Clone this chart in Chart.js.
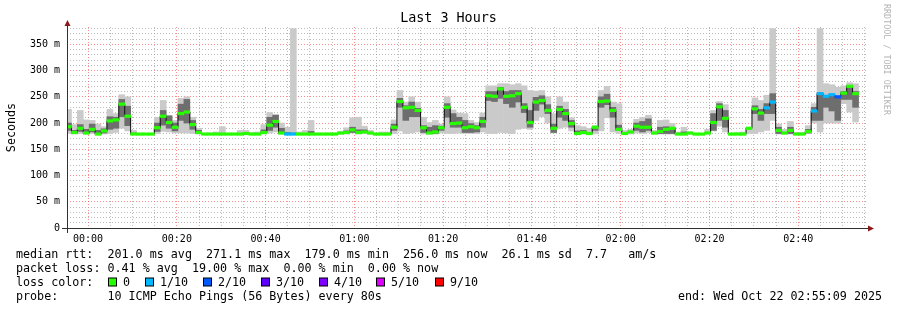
<!DOCTYPE html>
<html>
<head>
<meta charset="utf-8">
<script src="https://cdn.jsdelivr.net/npm/chart.js@4.4.0/dist/chart.umd.min.js"></script>
<style>
	html, body { margin: 0; padding: 0; background: #fff; }
	#wrap { width: 897px; height: 310px; position: relative; }
</style>
</head>
<body>
<div id="wrap"><canvas id="chart"></canvas></div>
<script>
// one step = 80 s, first (partial) step is k = -4, minutes relative to 00:00
const FIRST_CENTER = -4.413;
const STEP_MIN = 80 / 60;

// median rtt per step (ms), k = -4 .. 129
const median = [
	193, 182, 190, 181,
	188, 179, 185, 204, 206, 236, 213, 179, 179, 179,
	179, 191, 213, 201, 192, 218, 221, 197, 182, 179,
	179, 179, 179, 179, 179, 179, 180, 179, 179, 182,
	196, 203, 181, 179, 179, 179, 179, 179, 179, 179,
	179, 179, 181, 182, 187, 182, 183, 181, 179, 179,
	179, 192, 241, 229, 230, 224, 191, 181, 183, 191,
	230, 199, 200, 191, 193, 191, 203, 252, 251, 265,
	251, 252, 256, 230, 201, 240, 243, 224, 190, 226,
	218, 199, 180, 182, 180, 192, 241, 242, 224, 188,
	180, 183, 194, 192, 192, 181, 184, 188, 190, 179,
	179, 181, 179, 179, 181, 201, 231, 209, 179, 179,
	179, 190, 227, 219, 229, 240, 186, 181, 186, 179,
	179, 184, 223, 256, 251, 254, 250, 257, 270, 256
];
// highest ping per step
const pingMax = [
	226, 197, 224, 206,
	205, 198, 193, 226, 218, 254, 250, 186, 180, 180,
	180, 211, 243, 211, 205, 247, 250, 211, 190, 180,
	181, 183, 193, 180, 180, 186, 186, 182, 183, 197,
	220, 216, 200, 192, 380, 183, 186, 205, 180, 180,
	181, 181, 184, 191, 210, 211, 194, 186, 180, 183,
	183, 206, 262, 240, 250, 240, 211, 201, 205, 198,
	250, 225, 219, 218, 205, 201, 219, 271, 271, 275,
	275, 273, 275, 271, 262, 261, 262, 250, 218, 250,
	240, 210, 195, 193, 190, 195, 262, 270, 240, 237,
	186, 188, 207, 211, 215, 186, 205, 206, 199, 183,
	192, 183, 180, 180, 188, 224, 241, 235, 180, 182,
	183, 192, 248, 243, 253, 380, 198, 188, 203, 182,
	182, 195, 237, 380, 275, 273, 268, 271, 277, 275
];
// lowest ping per step
const pingMin = [
	180, 179, 180, 179,
	180, 178, 179, 180, 182, 190, 185, 178, 178, 178,
	178, 180, 184, 183, 181, 181, 181, 180, 179, 178,
	178, 178, 178, 178, 178, 178, 178, 178, 178, 179,
	181, 183, 179, 178, 178, 178, 178, 178, 178, 178,
	178, 178, 179, 179, 181, 179, 180, 179, 178, 178,
	178, 180, 185, 180, 181, 183, 179, 179, 179, 181,
	180, 180, 181, 180, 180, 180, 183, 180, 180, 182,
	181, 180, 188, 190, 188, 205, 212, 200, 181, 190,
	192, 185, 179, 179, 178, 180, 185, 210, 183, 180,
	178, 179, 181, 180, 182, 179, 179, 179, 179, 178,
	178, 179, 178, 178, 179, 185, 194, 183, 178, 178,
	178, 180, 180, 183, 186, 205, 179, 179, 179, 178,
	178, 180, 200, 183, 200, 200, 200, 237, 221, 202
];
// dense middle of the smoke
const coreLow = [
	186, 180, 184, 180,
	183, 179, 181, 188, 190, 212, 195, 179, null, null,
	null, 184, 196, 190, 185, 205, 200, 188, 180, null,
	null, null, null, null, null, null, null, null, null, 180,
	186, 192, 180, 179, 179, null, null, 179, null, null,
	null, null, null, 180, 182, 180, 182, null, null, null,
	null, 186, 230, 205, 212, 212, 182, 180, 180, 186,
	211, 192, 192, 182, 182, 183, 192, 243, 241, 247,
	237, 230, 240, 220, 192, 224, 236, 218, 182, 211,
	205, 192, 179, 180, null, 186, 230, 235, 211, 186,
	null, null, 186, 183, 186, null, 180, 180, 180, null,
	179, null, null, null, null, 186, 205, 192, null, null,
	null, null, 218, 205, 218, 218, 180, null, 180, null,
	null, 181, 205, 205, 230, 223, 205, 245, 245, 230
];
const coreHigh = [
	200, 186, 197, 188,
	198, 186, 189, 212, 211, 245, 232, 181, null, null,
	null, 200, 224, 214, 200, 236, 245, 205, 186, null,
	null, null, null, null, null, null, null, null, null, 187,
	211, 215, 190, 182, 181, null, null, 184, null, null,
	null, null, null, 185, 192, 187, 187, null, null, null,
	null, 198, 247, 233, 240, 228, 195, 192, 195, 194,
	237, 218, 211, 205, 199, 195, 211, 260, 260, 268,
	260, 262, 262, 237, 224, 249, 252, 235, 198, 232,
	226, 205, 185, 186, null, 193, 250, 255, 230, 196,
	null, null, 200, 203, 208, null, 192, 193, 192, null,
	183, null, null, null, null, 218, 237, 224, null, null,
	null, null, 233, 226, 237, 256, 192, null, 192, null,
	null, 188, 230, 258, 252, 254, 250, 260, 272, 260
];
// lost pings out of 10
const loss = [
	0, 0, 0, 0,
	0, 0, 0, 0, 0, 0, 0, 0, 0, 0,
	0, 0, 0, 0, 0, 0, 0, 0, 0, 0,
	0, 0, 0, 0, 0, 0, 0, 0, 0, 0,
	0, 0, 0, 1, 1, 0, 0, 0, 0, 0,
	0, 0, 0, 0, 0, 0, 0, 0, 0, 0,
	0, 0, 0, 0, 0, 0, 0, 0, 0, 0,
	0, 0, 0, 0, 0, 0, 0, 0, 0, 0,
	0, 0, 0, 0, 0, 0, 0, 0, 0, 0,
	0, 0, 0, 0, 0, 0, 0, 0, 0, 0,
	0, 0, 0, 0, 0, 0, 0, 0, 0, 0,
	0, 0, 0, 0, 0, 0, 0, 0, 0, 0,
	0, 0, 0, 0, 1, 1, 0, 0, 0, 0,
	0, 0, 1, 1, 1, 1, 2, 0, 0, 0
];

const lossLegend = ['0', '1/10', '2/10', '3/10', '4/10', '5/10', '9/10'];
const lossLegendColors = ['#26ff00', '#00b8ff', '#0059ff', '#5e00ff', '#7e00ff', '#dd00ff', '#ff0000'];
const lossColor = {0: '#26ff00', 1: '#00b8ff', 2: '#0059ff', 3: '#5e00ff', 4: '#7e00ff', 5: '#dd00ff', 9: '#ff0000'};

const yTickMajor = 50;
const xTickMajor = 20;

const statLines = [
	'median rtt:  201.0 ms avg  271.1 ms max  179.0 ms min  256.0 ms now  26.1 ms sd  7.7   am/s',
	'packet loss: 0.41 % avg  19.00 % max  0.00 % min  0.00 % now',
	'loss color:',
	'probe:       10 ICMP Echo Pings (56 Bytes) every 80s'
];
const endText = 'end: Wed Oct 22 02:55:09 2025';

const MONO = '"DejaVu Sans Mono", "Liberation Mono", monospace';

function stepX(i) {
	return FIRST_CENTER + i * STEP_MIN;
}

function rangeData(lows, highs) {
	return lows.map((lo, i) => ({x: stepX(i), y: (lo === null || highs[i] === null) ? null : [lo, highs[i]]}));
}

function hhmm(v) {
	const m = Math.round(v);
	const h = Math.floor(m / 60);
	return String(h).padStart(2, '0') + ':' + String(m % 60).padStart(2, '0');
}

// half height of the loss coloured median marker, in ms
const MEDIAN_HALF = 2.4;

const data = {
	datasets: [
		{
			label: 'smoke',
			data: rangeData(pingMin, pingMax),
			backgroundColor: '#cacaca',
			order: 4,
		},
		{
			label: 'core',
			data: rangeData(coreLow, coreHigh),
			backgroundColor: '#6e6e6e',
			order: 3,
		},
		{
			type: 'line',
			label: 'median line',
			data: median.map((m, i) => ({x: stepX(i), y: m})),
			borderColor: '#111',
			borderWidth: 1,
			pointRadius: 0,
			stepped: 'middle',
			fill: false,
			order: 2,
		},
		{
			label: 'median',
			data: median.map((m, i) => ({x: stepX(i), y: [m - MEDIAN_HALF, m + MEDIAN_HALF]})),
			backgroundColor: function (context) {
				return lossColor[loss[context.dataIndex]] ?? '#ff0000';
			},
			order: 1,
		},
	]
};

const decorations = {
	id: 'decorations',
	afterDatasetsDraw(chart) {
		const {ctx, chartArea} = chart;
		const left = chartArea.left, bottom = chartArea.bottom, right = chartArea.right;
		ctx.save();
		ctx.strokeStyle = '#303030';
		ctx.lineWidth = 1;
		ctx.beginPath();
		ctx.moveTo(62, bottom + 0.5);
		ctx.lineTo(right + 1, bottom + 0.5);
		ctx.moveTo(left + 0.5, bottom + 5);
		ctx.lineTo(left + 0.5, 25);
		ctx.stroke();
		// arrows
		ctx.fillStyle = '#8b1a1a';
		ctx.beginPath();
		ctx.moveTo(left + 0.5, 20);
		ctx.lineTo(left - 2.5, 26);
		ctx.lineTo(left + 3.5, 26);
		ctx.closePath();
		ctx.fill();
		ctx.beginPath();
		ctx.moveTo(right + 7, bottom + 0.5);
		ctx.lineTo(right + 1, bottom - 2.5);
		ctx.lineTo(right + 1, bottom + 3.5);
		ctx.closePath();
		ctx.fill();
		ctx.restore();
	},
	afterDraw(chart) {
		const {ctx, chartArea} = chart;
		ctx.save();
		ctx.fillStyle = '#000';
		ctx.textBaseline = 'middle';

		ctx.font = '13.4px ' + MONO;
		ctx.textAlign = 'center';
		ctx.fillText('Last 3 Hours', 448.5, 19);

		ctx.font = '11.7px ' + MONO;
		ctx.save();
		ctx.translate(12, (chartArea.top + chartArea.bottom) / 2);
		ctx.rotate(-Math.PI / 2);
		ctx.fillText('Seconds', 0, 0);
		ctx.restore();

		ctx.save();
		ctx.fillStyle = '#b4b4b4';
		ctx.font = '8.4px ' + MONO;
		ctx.translate(886, 4);
		ctx.rotate(Math.PI / 2);
		ctx.textAlign = 'left';
		ctx.fillText('RRDTOOL / TOBI OETIKER', 0, 0);
		ctx.restore();

		ctx.textAlign = 'left';
		ctx.font = '11.7px ' + MONO;
		const lineY = [254.5, 268.5, 282.5, 296.5];
		statLines.forEach((t, i) => ctx.fillText(t, 16, lineY[i]));

		const boxX = [108.5, 145.5, 203.5, 261.5, 319.5, 376.5, 435.5];
		lossLegend.forEach((lab, i) => {
			ctx.fillStyle = lossLegendColors[i];
			ctx.fillRect(boxX[i], lineY[2] - 4.5, 8, 8);
			ctx.strokeStyle = '#000';
			ctx.lineWidth = 1;
			ctx.strokeRect(boxX[i], lineY[2] - 4.5, 8, 8);
			ctx.fillStyle = '#000';
			ctx.fillText(lab, boxX[i] + 14.5, lineY[2]);
		});

		ctx.fillText(endText, 678, lineY[3]);
		ctx.restore();
	}
};

const config = {
	type: 'bar',
	data: data,
	plugins: [decorations],
	options: {
		responsive: false,
		animation: false,
		events: [],
		clip: 0,
		grouped: false,
		barPercentage: 1,
		categoryPercentage: 1,
		layout: {
			padding: {top: 27, right: 30, left: 0, bottom: 0}
		},
		plugins: {
			legend: {display: false},
			tooltip: {enabled: false},
			title: {display: false},
		},
		scales: {
			x: {
				type: 'linear',
				offset: false,
				min: -4.75,
				max: 175.5,
				afterFit: function (scale) { scale.height = 82; },
				grid: {
					offset: false,
					drawTicks: false,
					color: function (c) {
						return c.tick && Math.round(c.tick.value) % xTickMajor === 0 ? 'rgba(255,90,90,0.7)' : 'rgba(150,150,150,0.65)';
					},
				},
				border: {display: false, dash: [1, 2]},
				ticks: {
					stepSize: 5,
					includeBounds: false,
					autoSkip: false,
					maxRotation: 0,
					padding: 5,
					color: '#000',
					font: {family: MONO, size: 10},
					callback: function (v) {
						return Math.round(v) % xTickMajor === 0 ? hhmm(v) : '';
					}
				}
			},
			y: {
				type: 'linear',
				min: 0,
				max: 383,
				afterFit: function (scale) { scale.width = 67; },
				grid: {
					drawTicks: false,
					color: function (c) {
						return c.tick && Math.round(c.tick.value) % yTickMajor === 0 ? 'rgba(255,90,90,0.7)' : 'rgba(150,150,150,0.65)';
					},
				},
				border: {display: false, dash: [1, 2]},
				ticks: {
					stepSize: 10,
					includeBounds: false,
					autoSkip: false,
					padding: 7,
					color: '#000',
					font: {family: MONO, size: 10},
					callback: function (v) {
						const r = Math.round(v);
						if (r % yTickMajor !== 0) return '';
						return r === 0 ? '0' : r + ' m';
					}
				}
			}
		}
	}
};

const canvas = document.getElementById('chart');
canvas.width = 897;
canvas.height = 310;
canvas.style.width = '897px';
canvas.style.height = '310px';
myChart = new Chart(canvas, config);
</script>
</body>
</html>
